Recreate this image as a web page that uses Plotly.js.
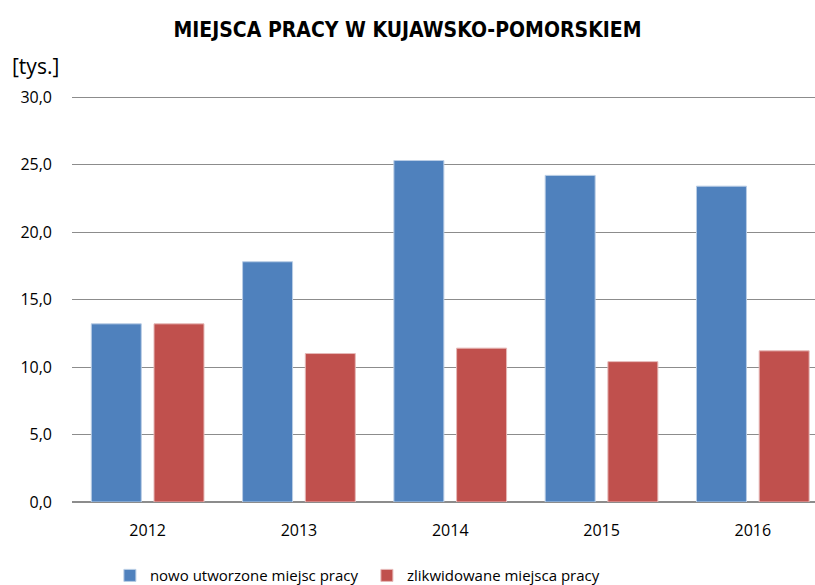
<!DOCTYPE html>
<html><head><meta charset="utf-8">
<script src="https://cdn.plot.ly/plotly-3.0.1.min.js"></script>
<style>body{margin:0;background:#fff}#c{width:815px;height:585px}</style>
</head><body><div id="c"></div>
<script>
const years = ['2012','2013','2014','2015','2016'];
const nowe = [13.2, 17.8, 25.3, 24.2, 23.4];
const zlikwidowane = [13.2, 11.0, 11.4, 10.4, 11.2];
const seriesNames = ['nowo utworzone miejsc pracy', 'zlikwidowane miejsca pracy'];
const yTicks = [0, 5, 10, 15, 20, 25, 30];

const tickFont = {family: 'Open Sans, Noto Sans, sans-serif', size: 16, color: '#000'};
const data = [
  {type:'bar', x: years, y: nowe, name: seriesNames[0],
   marker:{color:'#4F81BD', line:{color:'#B9CDE5', width:1}}},
  {type:'bar', x: years, y: zlikwidowane, name: seriesNames[1],
   marker:{color:'#C0504D', line:{color:'#E6B9B8', width:1}}}
];
const layout = {
  width: 815, height: 585,
  margin: {l:72, r:0, t:89, b:83},
  paper_bgcolor:'#fff', plot_bgcolor:'#fff',
  separators: ',.',
  barmode: 'group', bargap: 0.171, bargroupgap: 0.203,
  title: {text: 'MIEJSCA PRACY W KUJAWSKO-POMORSKIEM',
    font:{family:'Liberation Sans Narrow, DejaVu Sans Condensed, sans-serif', size:21, color:'#000', weight:'bold'},
    x: 0.5, xref:'container', xanchor:'center', y: 1 - 30/585, yref:'container', yanchor:'middle'},
  xaxis: {type:'category', range:[-0.5, 4.411], tickfont: tickFont, showgrid:false, ticks:'', showline:false, zeroline:false, automargin:false, ticklabelstandoff: 17},
  yaxis: {range:[0,30.6], tickvals: yTicks, tickformat:'.1f', tickfont: tickFont,
    showgrid:true, gridcolor:'#8C8C8C', gridwidth:1, zeroline:true, zerolinecolor:'#8C8C8C', zerolinewidth:2,
    ticks:'', showline:false, ticklabelstandoff: 19, automargin:false},
  showlegend: true,
  legend: {orientation:'h', x:0.051, xanchor:'left', yref:'container', y:0.016, yanchor:'middle',
    font: {family: 'Open Sans, Noto Sans, sans-serif', size: 15, color: '#000'}, traceorder:'normal', itemwidth:30, entrywidth:212},
  annotations: [{text:'[tys.]', xref:'paper', yref:'paper', x:-0.084, xanchor:'left', y:1.056, yanchor:'middle', showarrow:false,
    font:{family:'Open Sans, Noto Sans, sans-serif', size:21, color:'#000'}}]
};
Plotly.newPlot('c', data, layout, {displayModeBar:false});
</script></body></html>
